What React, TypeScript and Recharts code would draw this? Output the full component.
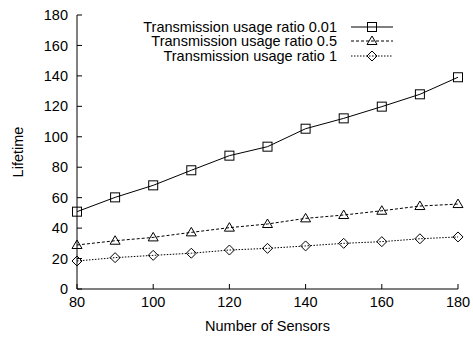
import React from "react";
import { LineChart, Line, XAxis, YAxis } from "recharts";

// x values: number of sensors
const sensors = [80, 90, 100, 110, 120, 130, 140, 150, 160, 170, 180];
// lifetime per transmission usage ratio
const ratio001 = [50.8, 60.2, 68.1, 78.0, 87.6, 93.5, 105.3, 112.1, 119.8, 127.9, 139.1];
const ratio05 = [28.9, 31.7, 33.9, 37.2, 40.3, 42.7, 46.4, 48.6, 51.4, 54.5, 55.8];
const ratio1 = [18.4, 20.6, 22.1, 23.5, 25.6, 26.7, 28.3, 30.0, 31.1, 33.0, 34.2];

const xTicks = [80, 100, 120, 140, 160, 180];
const yTicks = [0, 20, 40, 60, 80, 100, 120, 140, 160, 180];

const seriesNames = [
  "Transmission usage ratio 0.01",
  "Transmission usage ratio 0.5",
  "Transmission usage ratio 1",
];

const FONT = "'Liberation Sans', Arial, Helvetica, sans-serif";
const FS = 14.5;

const data = sensors.map((s, i) => ({
  sensors: s,
  r001: ratio001[i],
  r05: ratio05[i],
  r1: ratio1[i],
}));

type Shape = "square" | "triangle" | "diamond";

const Marker = ({ cx, cy, shape }: { cx: number; cy: number; shape: Shape }) => {
  if (cx == null || cy == null) return null;
  if (shape === "square") {
    return <rect x={cx - 4.5} y={cy - 4.5} width={9} height={9} fill="none" stroke="#000" strokeWidth={1} />;
  }
  if (shape === "triangle") {
    const pts = `${cx},${cy - 5} ${cx - 5},${cy + 3.5} ${cx + 5},${cy + 3.5}`;
    return <polygon points={pts} fill="none" stroke="#000" strokeWidth={1} />;
  }
  const pts = `${cx},${cy - 5} ${cx + 5},${cy} ${cx},${cy + 5} ${cx - 5},${cy}`;
  return <polygon points={pts} fill="none" stroke="#000" strokeWidth={1} />;
};

const dots = (shape: Shape) => (p: any) => <Marker key={p.index} cx={p.cx} cy={p.cy} shape={shape} />;

const legendItems: { name: string; dash?: string; shape: Shape }[] = [
  { name: seriesNames[0], shape: "square" },
  { name: seriesNames[1], dash: "3 2", shape: "triangle" },
  { name: seriesNames[2], dash: "1.5 1.5", shape: "diamond" },
];

// gnuplot-style key, top right inside the plot
const LegendBox = () => (
  <div style={{ position: "absolute", top: 20, left: 100, width: 293, fontFamily: FONT, fontSize: FS, color: "#000" }}>
    {legendItems.map((it) => (
      <div key={it.name} style={{ display: "flex", alignItems: "center", height: 14.3, justifyContent: "flex-end" }}>
        <span style={{ whiteSpace: "nowrap", lineHeight: "14px" }}>{it.name}</span>
        <svg width={56} height={14}>
          <line x1={14} x2={56} y1={7} y2={7} stroke="#000" strokeWidth={1} strokeDasharray={it.dash} />
          <Marker cx={35} cy={7} shape={it.shape} />
        </svg>
      </div>
    ))}
  </div>
);

const YLabel = (props: any) => {
  const vb = props.viewBox;
  const cx = vb.x + 11;
  const cy = vb.y + vb.height / 2;
  return (
    <text x={cx} y={cy} transform={`rotate(-90 ${cx} ${cy})`} textAnchor="middle" dominantBaseline="central"
      fontFamily={FONT} fontSize={FS} fill="#000">
      Lifetime
    </text>
  );
};

const tickStyle = { fontFamily: FONT, fontSize: FS, fill: "#000" };

export default function App() {
  return (
    <div style={{ position: "absolute", left: 0, top: 0, width: 473, height: 337, background: "#fff" }}>
      <LineChart width={473} height={337} data={data} margin={{ top: 15, right: 15, bottom: 6, left: 7 }}>
        <XAxis dataKey="sensors" type="number" domain={[80, 180]} ticks={xTicks} height={42}
          stroke="#000" tickSize={-5} tickMargin={13} tick={tickStyle} tickLine={{ stroke: "#000" }}
          label={{ value: "Number of Sensors", position: "insideBottom", offset: 0, style: tickStyle }} />
        <XAxis xAxisId="top" orientation="top" dataKey="sensors" type="number" domain={[80, 180]} ticks={xTicks}
          height={0} stroke="#000" tickSize={-5} tickFormatter={() => ""} tickLine={{ stroke: "#000" }} />
        <YAxis type="number" domain={[0, 180]} ticks={yTicks} width={70} stroke="#000" tickSize={-5}
          tickMargin={14} tick={tickStyle} tickLine={{ stroke: "#000" }} label={<YLabel />} />
        <YAxis yAxisId="right" orientation="right" type="number" domain={[0, 180]} ticks={yTicks} width={0}
          stroke="#000" tickSize={-5} tickFormatter={() => ""} tickLine={{ stroke: "#000" }} />
        <Line dataKey="r001" name={seriesNames[0]} stroke="#000" strokeWidth={1} dot={dots("square")}
          isAnimationActive={false} />
        <Line dataKey="r05" name={seriesNames[1]} stroke="#000" strokeWidth={1} strokeDasharray="3 2"
          dot={dots("triangle")} isAnimationActive={false} />
        <Line dataKey="r1" name={seriesNames[2]} stroke="#000" strokeWidth={1} strokeDasharray="1.5 1.5"
          dot={dots("diamond")} isAnimationActive={false} />
      </LineChart>
      <LegendBox />
    </div>
  );
}
